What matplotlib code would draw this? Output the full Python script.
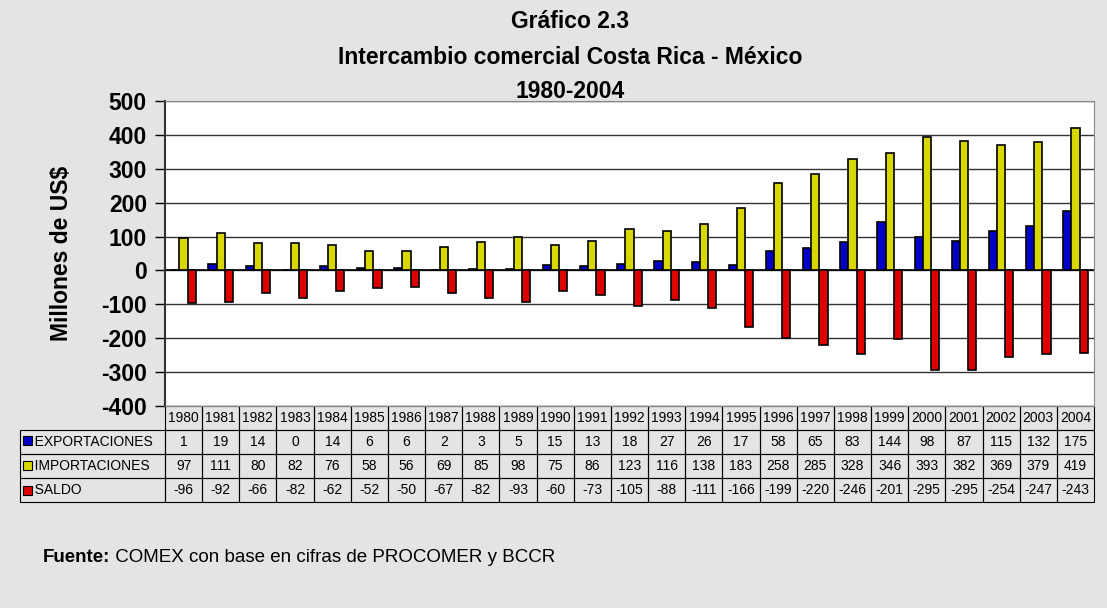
import matplotlib.pyplot as plt
import numpy as np
from matplotlib.table import Table
from matplotlib.patches import Rectangle

plt.rcParams["font.family"] = ["Liberation Sans", "DejaVu Sans"]
plt.rcParams["axes.unicode_minus"] = False

years = [str(y) for y in range(1980, 2005)]
exportaciones = [1, 19, 14, 0, 14, 6, 6, 2, 3, 5, 15, 13, 18, 27, 26, 17, 58, 65, 83, 144, 98, 87, 115, 132, 175]
importaciones = [97, 111, 80, 82, 76, 58, 56, 69, 85, 98, 75, 86, 123, 116, 138, 183, 258, 285, 328, 346, 393, 382, 369, 379, 419]
saldo = [-96, -92, -66, -82, -62, -52, -50, -67, -82, -93, -60, -73, -105, -88, -111, -166, -199, -220, -246, -201, -295, -295, -254, -247, -243]

series = [
    ("EXPORTACIONES", exportaciones, "#0000c8"),
    ("IMPORTACIONES", importaciones, "#d8d800"),
    ("SALDO", saldo, "#dd0000"),
]

fig = plt.figure(figsize=(11.07, 6.08), dpi=100, facecolor="#e4e4e4")
ax = fig.add_axes([165 / 1107, 1 - 406 / 608, 929 / 1107, 305 / 608])
ax.set_facecolor("white")

x = np.arange(len(years))
w = 0.22
for i, (name, vals, col) in enumerate(series):
    ax.bar(x + (i - 1) * w, vals, w, color=col, edgecolor="black", linewidth=1.2, zorder=3)

ax.set_xlim(-0.5, len(years) - 0.5)
ax.set_ylim(-400, 500)
ax.set_yticks(range(-400, 501, 100))
ax.set_xticks([])
ax.yaxis.grid(True, color="#333333", linewidth=1, zorder=0)
ax.axhline(0, color="black", linewidth=1.2, zorder=2)
ax.tick_params(axis="y", direction="out", length=7, width=1, pad=6, labelsize=16.5)
for lbl in ax.get_yticklabels():
    lbl.set_fontweight("bold")
for side in ["top", "right", "bottom"]:
    ax.spines[side].set_color("#888888")
ax.spines["left"].set_color("#333333")
ax.spines["left"].set_linewidth(1.5)

ax.set_ylabel("Millones de US$", fontsize=16.5, fontweight="bold", labelpad=20)

# data table below the plot
ncol = len(years)
label_w = 145 / 929
col_w = 1.0 / ncol
row_h = 1.0 / 4
tbl = Table(ax, bbox=[-label_w, -96 / 305, 1 + label_w, 96 / 305])
c = tbl.add_cell(0, 0, label_w, row_h, text="", loc="left")
c.set_edgecolor("none")
c.set_facecolor("none")
for j, yr in enumerate(years):
    cell = tbl.add_cell(0, j + 1, col_w, row_h, text=yr, loc="center")
    cell.set_facecolor("none")
for r, (name, vals, col) in enumerate(series, start=1):
    cell = tbl.add_cell(r, 0, label_w, row_h, text="   " + name, loc="left")
    cell.set_facecolor("none")
    cell.PAD = 0.02
    for j, v in enumerate(vals):
        cell = tbl.add_cell(r, j + 1, col_w, row_h, text=str(v), loc="center")
        cell.set_facecolor("none")
tbl.auto_set_font_size(False)
tbl.set_fontsize(10)
for cell in tbl.get_celld().values():
    cell.set_linewidth(0.8)
ax.add_table(tbl)

# legend keys in the table
for r, (name, vals, col) in enumerate(series):
    yc = 1 - (428 + 12.5 + r * 25) / 608
    fig.patches.append(Rectangle((23 / 1107, yc - 4.5 / 608), 9 / 1107, 9 / 608,
                                 transform=fig.transFigure, facecolor=col,
                                 edgecolor="black", linewidth=0.8))

title_lines = ["Gráfico 2.3", "Intercambio comercial Costa Rica - México", "1980-2004"]
for k, line in enumerate(title_lines):
    fig.text(570 / 1107, 1 - (22 + 35 * k) / 608, line, ha="center", va="center",
             fontsize=16.5, fontweight="bold")

t1 = fig.text(43 / 1107, 1 - 557 / 608, "Fuente:", ha="left", va="center",
              fontsize=13.5, fontweight="bold")
ax.annotate(" COMEX con base en cifras de PROCOMER y BCCR", xy=(1, 0.5),
            xycoords=t1, ha="left", va="center", fontsize=13.5,
            annotation_clip=False)

fig.savefig("out.png", dpi=100, facecolor=fig.get_facecolor())
